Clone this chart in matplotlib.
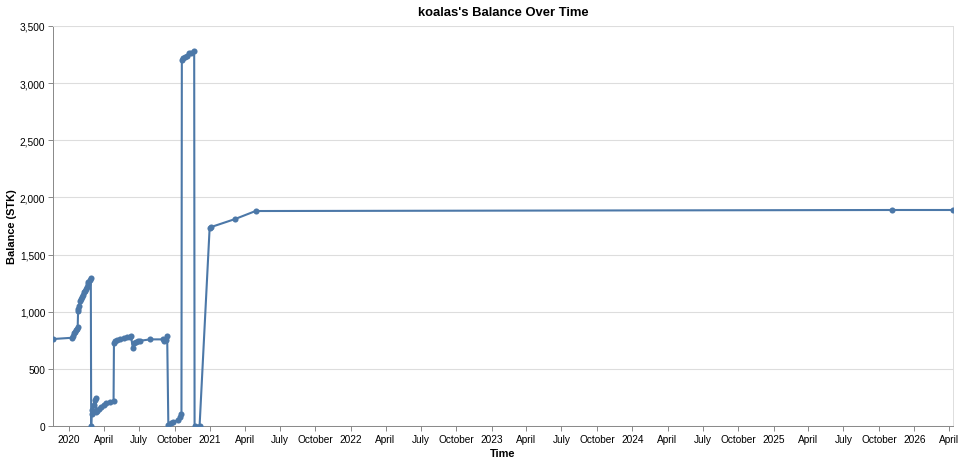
import matplotlib
matplotlib.use("Agg")
import matplotlib.pyplot as plt
import matplotlib.dates as mdates
from matplotlib.ticker import FuncFormatter, MultipleLocator
import pandas as pd

# balance history
dates = [
    "2019-11-21", "2020-01-09", "2020-01-11", "2020-01-14", "2020-01-16", "2020-01-19",
    "2020-01-21", "2020-01-24", "2020-01-25", "2020-01-26", "2020-01-27", "2020-01-30",
    "2020-02-01", "2020-02-04", "2020-02-06", "2020-02-09", "2020-02-11", "2020-02-14",
    "2020-02-16", "2020-02-19", "2020-02-21", "2020-02-24", "2020-02-27", "2020-02-28",
    "2020-02-29", "2020-03-02", "2020-03-05", "2020-03-08", "2020-03-11", "2020-03-12",
    "2020-03-15", "2020-03-19", "2020-03-24", "2020-03-31", "2020-04-07", "2020-04-17",
    "2020-04-26", "2020-04-27", "2020-04-30", "2020-05-05", "2020-05-13", "2020-05-23",
    "2020-05-31", "2020-06-08", "2020-06-10", "2020-06-15", "2020-06-18", "2020-06-23",
    "2020-06-28", "2020-07-04", "2020-07-30", "2020-09-01", "2020-09-05", "2020-09-08",
    "2020-09-12", "2020-09-15", "2020-09-21", "2020-09-28", "2020-10-11", "2020-10-15",
    "2020-10-19", "2020-10-20", "2020-10-23", "2020-10-28", "2020-11-02", "2020-11-07",
    "2020-11-12", "2020-11-21", "2020-11-22", "2020-12-05", "2020-12-31", "2021-01-03",
    "2021-03-07", "2021-04-29", "2025-11-03", "2026-04-11",
]
balance = [
    761, 772, 790, 810, 825, 840,
    852, 866, 1003, 1020, 1050, 1090,
    1110, 1130, 1150, 1170, 1185, 1200,
    1220, 1240, 1260, 1280, 1292, 0,
    105, 140, 185, 225, 245, 120,
    132, 148, 168, 188, 198, 208,
    222, 728, 740, 750, 760, 768,
    775, 782, 790, 680, 728, 735,
    742, 746, 758, 758, 742, 755,
    785, 5, 25, 35, 55, 75,
    108, 3205, 3218, 3228, 3240, 3260,
    3265, 3284, 3, 3, 1732, 1740,
    1811, 1881, 1890, 1890,
]

df = pd.DataFrame({"time": pd.to_datetime(dates), "balance": balance})

plt.rcParams["font.family"] = ["Liberation Sans", "DejaVu Sans"]

fig = plt.figure(figsize=(9.63, 4.64), dpi=100)
ax = fig.add_axes([53 / 963, 1 - 427 / 464, 900 / 963, 400 / 464])

color = "#4c78a8"
ax.plot(df["time"], df["balance"], color=color, linewidth=1.5, zorder=3)
ax.plot(df["time"], df["balance"], "o", color=color, markersize=4.4,
        markeredgewidth=0, zorder=4)

ax.set_xlim(df["time"].min(), df["time"].max())
ax.set_ylim(0, 3500)

# y axis
ax.yaxis.set_major_locator(MultipleLocator(500))
ax.yaxis.set_major_formatter(FuncFormatter(lambda v, p: f"{int(v):,}"))
ax.grid(axis="y", color="#dddddd", linewidth=0.8, zorder=0)
ax.set_axisbelow(True)

# x axis, quarterly ticks
ax.xaxis.set_major_locator(mdates.MonthLocator(bymonth=[1, 4, 7, 10]))

def fmt_date(v, pos):
    d = mdates.num2date(v)
    return str(d.year) if d.month == 1 else d.strftime("%B")

ax.xaxis.set_major_formatter(FuncFormatter(fmt_date))

ax.tick_params(axis="both", labelsize=7.3, length=3.6, width=0.7,
               color="#888888", pad=2, labelcolor="#000000")

for side in ["left", "bottom"]:
    ax.spines[side].set_color("#888888")
    ax.spines[side].set_linewidth(0.7)
for side in ["top", "right"]:
    ax.spines[side].set_color("#dddddd")
    ax.spines[side].set_linewidth(0.7)

ax.set_xlabel("Time", fontsize=7.9, fontweight="bold", labelpad=3)
ax.set_ylabel("Balance (STK)", fontsize=7.9, fontweight="bold", labelpad=2)
ax.set_title("koalas's Balance Over Time", fontsize=9.4, fontweight="bold", pad=8)

fig.savefig("out.png", dpi=100)
